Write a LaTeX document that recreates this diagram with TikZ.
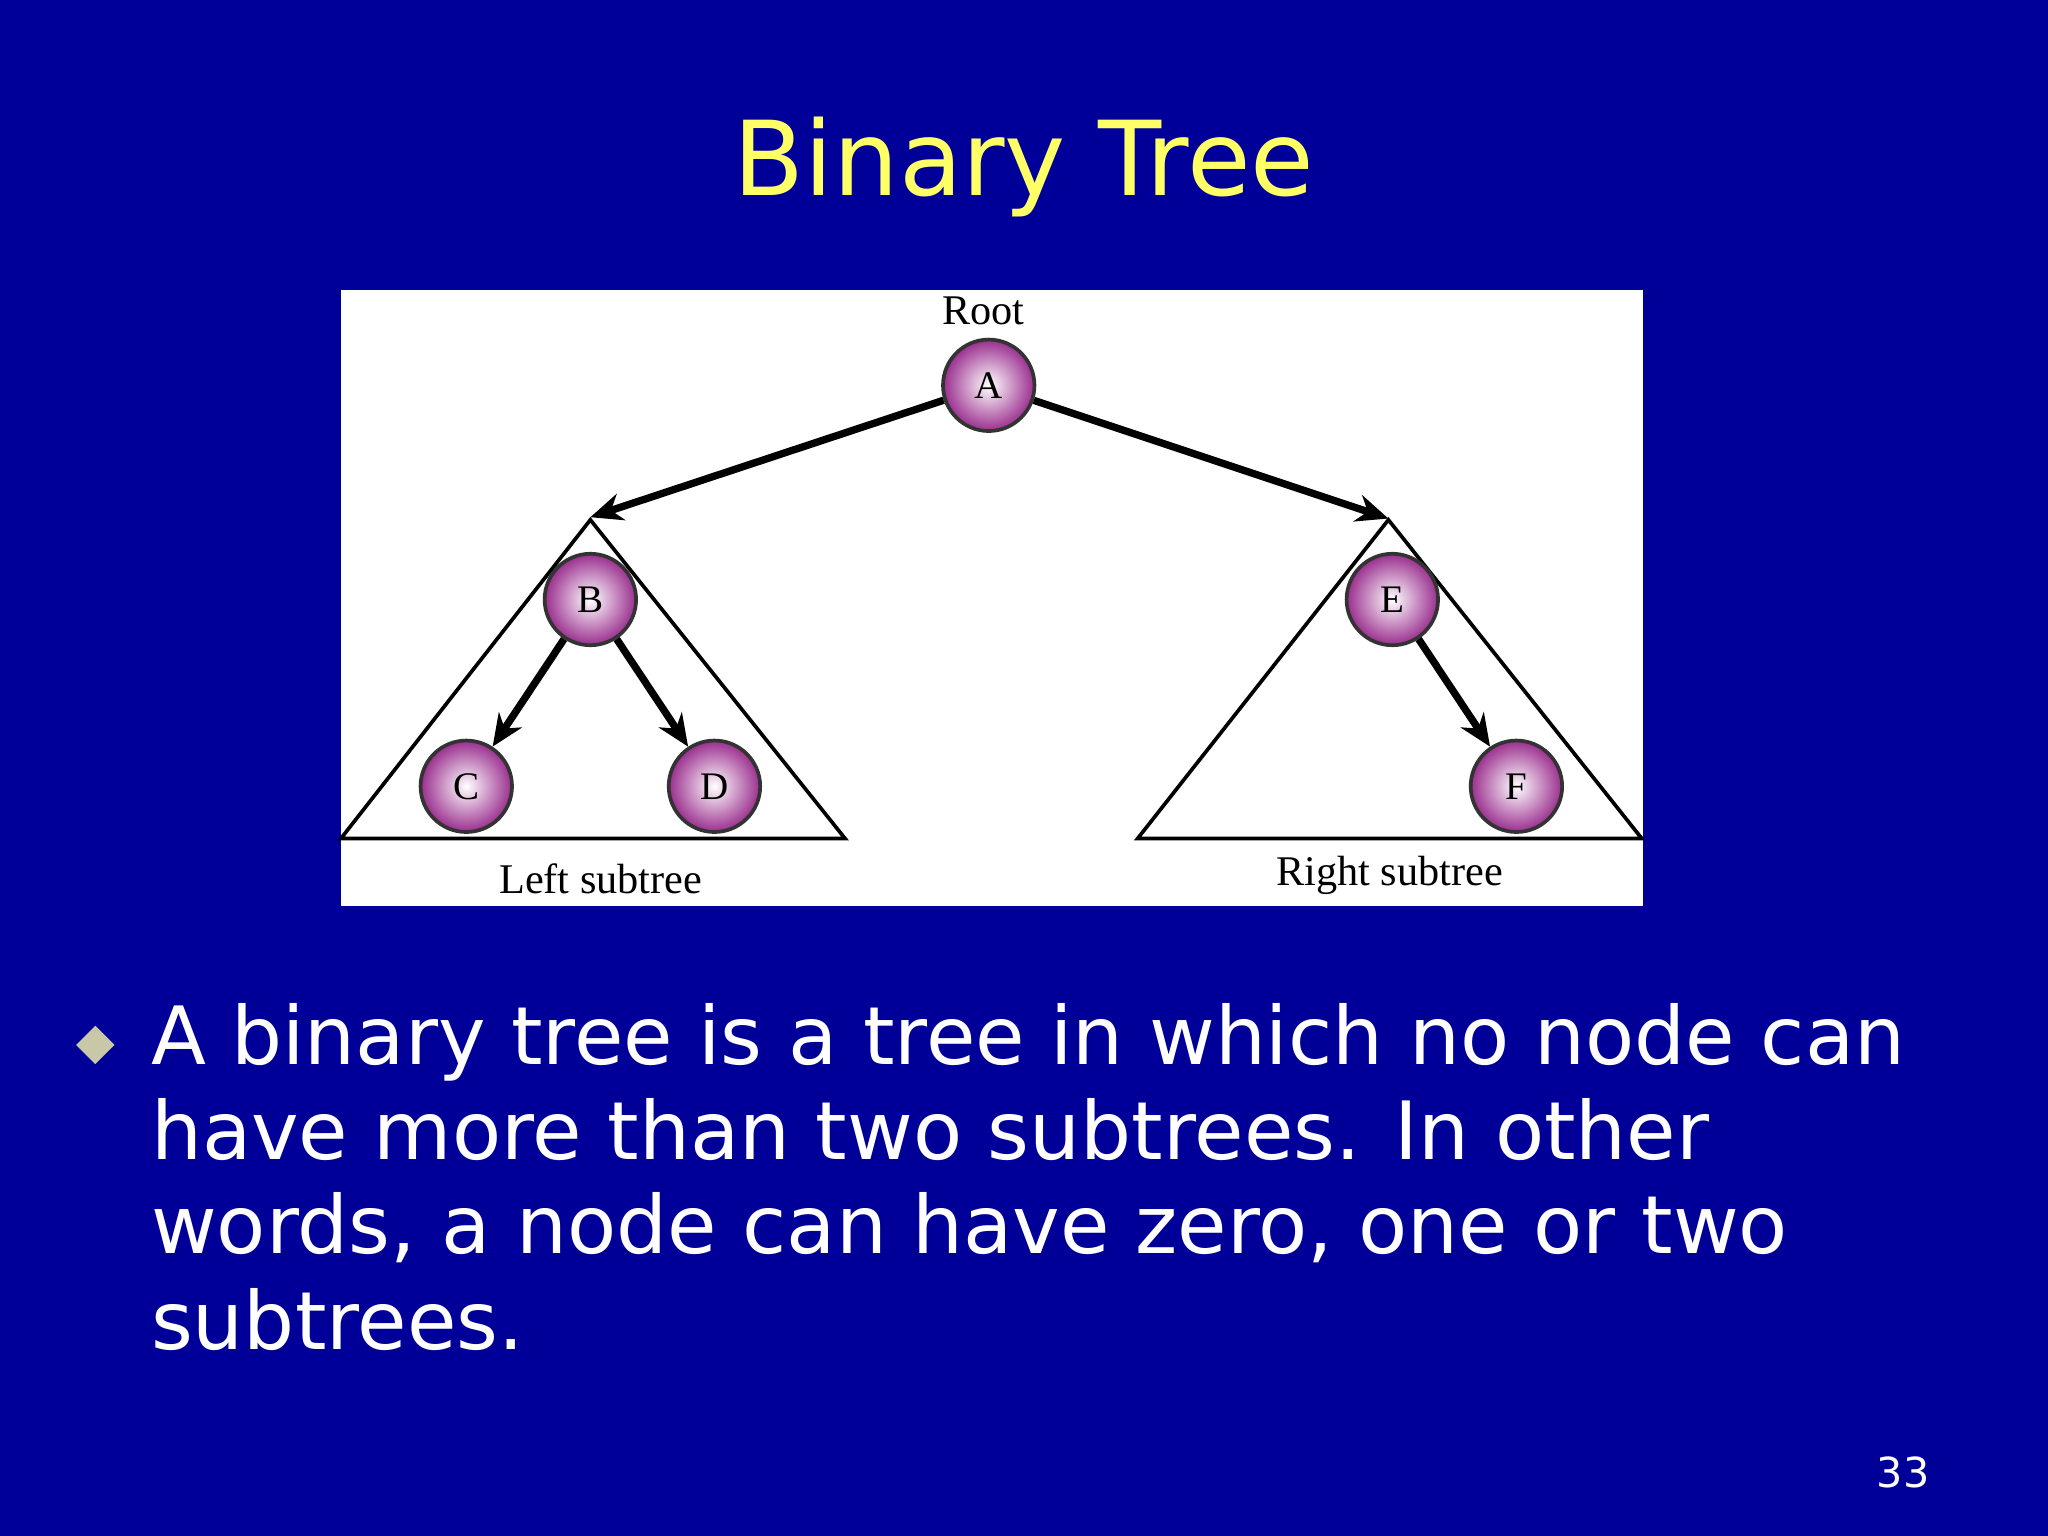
\documentclass[tikz,border=0pt]{standalone}
\usepackage{fontspec}
\setmainfont{DejaVu Sans}
\newfontfamily\serifx{Liberation Serif}
\usetikzlibrary{arrows.meta,shapes.geometric}
\definecolor{bgblue}{HTML}{000099}
\definecolor{ttl}{HTML}{FFFF66}
\definecolor{nodep}{HTML}{9A2E8E}
\definecolor{bul}{HTML}{C8C8A8}
\tikzset{
 tnode/.style={circle,minimum size=0.7cm,inner sep=0pt,draw=black!80,line width=0.8pt,
   shading=radial,inner color=white,outer color=nodep,font=\serifx\fontsize{8.5}{10}\selectfont},
 edge/.style={line width=1.6pt,-{Stealth[length=7pt,width=6pt]}},
 tri/.style={draw=black,line width=0.8pt},
 lbl/.style={font=\serifx\fontsize{9.2}{11}\selectfont,inner sep=0pt},
 body/.style={anchor=base west,text=white,font=\fontsize{17.5}{21}\selectfont,inner sep=0pt}
}
\begin{document}
\begin{tikzpicture}[x=0.01cm,y=-0.01cm]
\useasboundingbox (0,0) rectangle (1568,1176);
\fill[bgblue] (0,0) rectangle (1568,1176);
\node[text=ttl,font=\fontsize{22.5}{26}\selectfont,inner sep=0pt] (title) at (784,128) {Binary Tree};
\fill[white] (261,222) rectangle (1258,694);
\draw[tri] (452,398) -- (261,642) -- (647,642) -- cycle;
\draw[tri] (1063,398) -- (871,642) -- (1257,642) -- cycle;
\coordinate (lt) at (452,396);
\coordinate (rt) at (1063,397);
\node[tnode] (A) at (757,295) {A};
\node[tnode] (B) at (452,459) {B};
\node[tnode] (C) at (357,602) {C};
\node[tnode] (D) at (547,602) {D};
\node[tnode] (E) at (1066,459) {E};
\node[tnode] (F) at (1161,602) {F};
\draw[edge] (A) -- (lt);
\draw[edge] (A) -- (rt);
\draw[edge] (B) -- (C);
\draw[edge] (B) -- (D);
\draw[edge] (E) -- (F);
\node[lbl] (root) at (753,238) {Root};
\node[lbl] (ls) at (460,673) {Left subtree};
\node[lbl] (rs) at (1064,670) {Right subtree};
\node[diamond,fill=bul,minimum size=0.3cm,inner sep=0pt] (bullet) at (73,800) {};
\node[body] (l1) at (115,815) {A binary tree is a tree in which no node can};
\node[body] (l2) at (115,888) {have more than two subtrees. In other};
\node[body] (l3) at (115,960) {words, a node can have zero, one or two};
\node[body] (l4) at (115,1033) {subtrees.};
\node[text=white,font=\fontsize{9}{11}\selectfont,inner sep=0pt] (pg) at (1457,1127) {33};
\end{tikzpicture}
\end{document}
